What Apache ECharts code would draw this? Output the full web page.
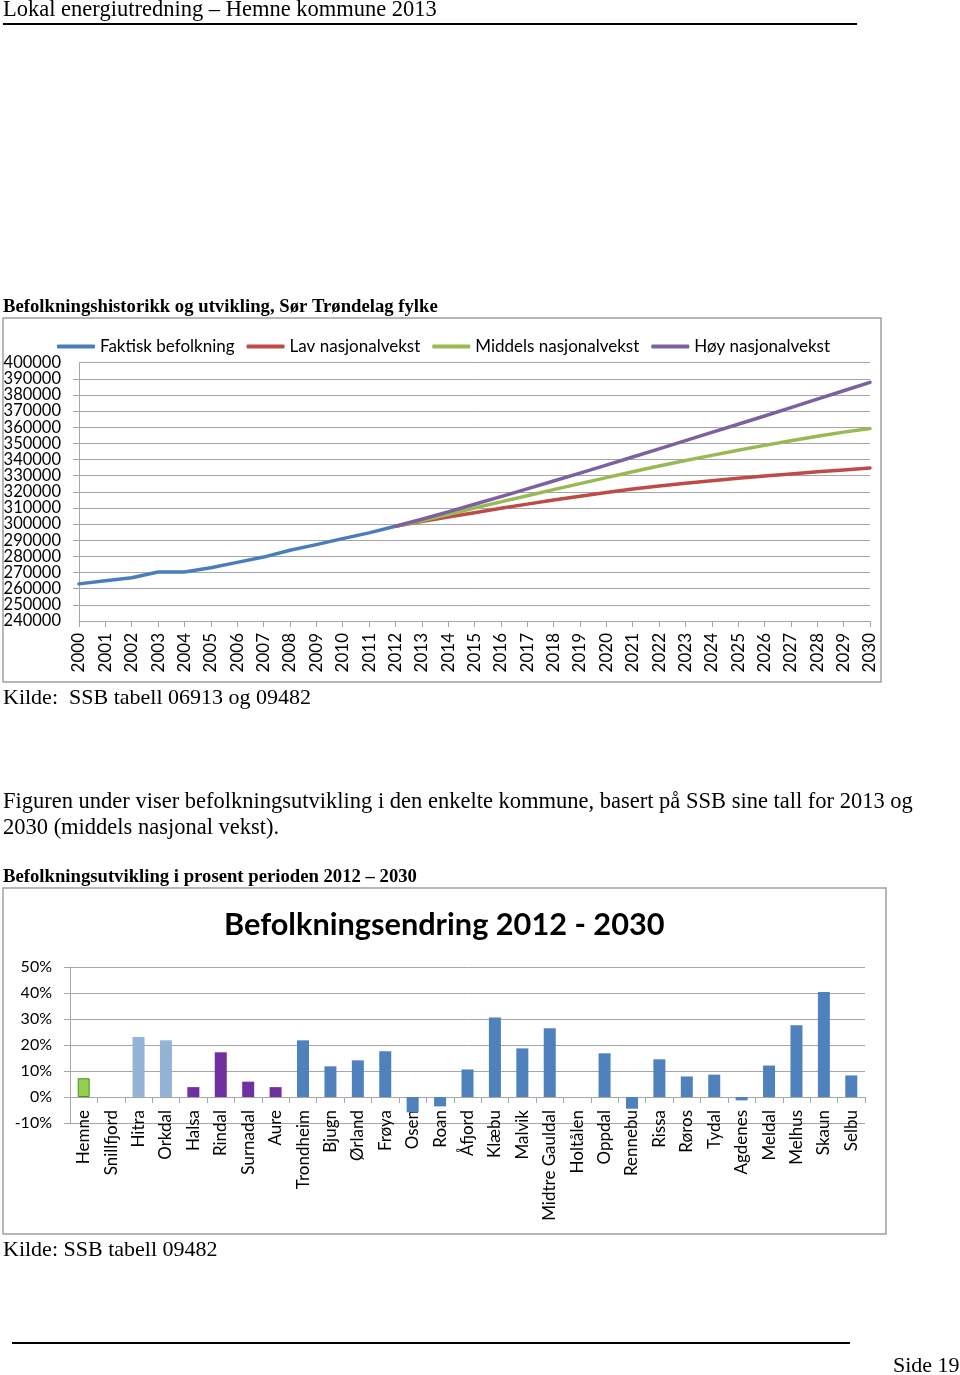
<!DOCTYPE html>
<html><head><meta charset="utf-8">
<script src="https://cdn.jsdelivr.net/npm/echarts@6/dist/echarts.min.js"></script>
<style>html,body{margin:0;padding:0;background:#fff}#c{width:960px;height:1375px}</style>
</head><body><div id="c"></div>
<script>
// ---- Data: population Sør-Trøndelag ----
const years = ['2000','2001','2002','2003','2004','2005','2006','2007','2008','2009','2010',
  '2011','2012','2013','2014','2015','2016','2017','2018','2019','2020','2021','2022','2023',
  '2024','2025','2026','2027','2028','2029','2030'];
// 2000-2012
const faktisk = [263000,264900,266800,270300,270300,273000,276300,279600,283800,287300,291000,294600,298700];
// 2012-2030
const lav = [298700,301600,304400,307100,309800,312400,314900,317300,319600,321700,323600,325300,326900,328400,329800,331100,332400,333600,334800];
const middels = [298700,302000,306000,310000,313800,317600,321400,325100,328800,332400,336000,339400,342600,345800,348800,351700,354500,357000,359300];
const hoy = [298700,303000,307600,312300,317000,321800,326700,331600,336600,341600,346600,351700,356800,361900,367000,372200,377400,382600,387800];
const seriesNames = ['Faktisk befolkning','Lav nasjonalvekst','Middels nasjonalvekst','Høy nasjonalvekst'];
const popMin = 240000, popMax = 400000, popStep = 10000;

// ---- Data: population change 2012-2030 per municipality ----
const kommuner = ['Hemne','Snillfjord','Hitra','Orkdal','Halsa','Rindal','Surnadal','Aure','Trondheim',
  'Bjugn','Ørland','Frøya','Osen','Roan','Åfjord','Klæbu','Malvik','Midtre Gauldal','Holtålen',
  'Oppdal','Rennebu','Rissa','Røros','Tydal','Agdenes','Meldal','Melhus','Skaun','Selbu'];
const endring = [0.072,0,0.231,0.218,0.038,0.172,0.059,0.038,0.218,
  0.118,0.141,0.176,-0.059,-0.036,0.106,0.306,0.187,0.264,0,
  0.168,-0.045,0.145,0.079,0.086,-0.013,0.121,0.276,0.404,0.083];

// ---- styling ----
const lineColors = ['#4A7EBB','#BE4B48','#98B954','#7D60A0'];
const barColor = name => {
  if (name === 'Hemne') return '#92D050';
  if (name === 'Hitra' || name === 'Orkdal') return '#95B3D7';
  if (['Halsa','Rindal','Surnadal','Aure'].includes(name)) return '#7030A0';
  return '#4F81BD';
};
const CF = 'Lato, "Open Sans", sans-serif';
const SF = '"Liberation Serif", "Times New Roman", serif';
const grey = '#A6A6A6';

const pad = (arr, before, total) => {
  const out = [];
  for (let i = 0; i < before; i++) out.push(null);
  arr.forEach(v => out.push(v));
  while (out.length < total) out.push(null);
  return out;
};
const start2012 = years.indexOf('2012');

const lineSeries = [faktisk, lav, middels, hoy].map((arr, i) => ({
  name: seriesNames[i], type: 'line', xAxisIndex: 0, yAxisIndex: 0,
  data: pad(arr, i === 0 ? 0 : start2012, years.length),
  symbol: 'none', showSymbol: false, connectNulls: false,
  legendIcon: 'roundRect',
  lineStyle: { width: 3.5, color: lineColors[i], cap: 'round', join: 'round' },
  itemStyle: { color: lineColors[i] }, z: 2 + i, animation: false
}));

const barData = endring.map((v, i) => ({
  value: v,
  itemStyle: { color: barColor(kommuner[i]), borderColor: kommuner[i] === 'Hemne' ? '#4E8A2A' : 'transparent', borderWidth: kommuner[i] === 'Hemne' ? 1 : 0 }
}));

const txt = (x, y, s, font, opts = {}) => ({
  type: 'text', left: x, top: y, silent: true,
  style: Object.assign({ text: s, font: font, fill: '#000', textVerticalAlign: 'top' }, opts)
});

const topGrid = { left: 79, top: 362.7, width: 791, height: 258.3, containLabel: false, outerBoundsMode: 'none' };
const yLabelStyle = { margin: 18, fontFamily: CF, fontSize: 16.5, color: '#000' };

const option = {
  animation: false,
  backgroundColor: '#fff',
  legend: {
    data: seriesNames, left: 57, top: 338, padding: 0, icon: 'roundRect',
    itemWidth: 38, itemHeight: 4, itemGap: 12,
    textStyle: { fontFamily: CF, fontSize: 17, color: '#000' }
  },
  grid: [
    topGrid,
    { left: 70, top: 967, width: 795, height: 156, containLabel: false, outerBoundsMode: 'none' },
    Object.assign({}, topGrid)
  ],
  xAxis: [
    { type: 'category', gridIndex: 0, data: years, boundaryGap: false,
      axisLine: { lineStyle: { color: grey, width: 1 } },
      axisTick: { show: true, length: 6, lineStyle: { color: grey } },
      axisLabel: { rotate: 90, margin: 12, interval: 0, fontFamily: CF, fontSize: 17, color: '#000' },
      splitLine: { show: false } },
    { type: 'category', gridIndex: 1, data: kommuner, boundaryGap: true,
      axisLine: { onZero: true, lineStyle: { color: grey, width: 1 } },
      axisTick: { show: true, length: 6, alignWithLabel: false, interval: 0, lineStyle: { color: grey } },
      axisLabel: { rotate: 90, margin: -13, interval: 0, fontFamily: CF, fontSize: 17, color: '#000' },
      splitLine: { show: false } },
    { type: 'category', gridIndex: 2, data: years, boundaryGap: false, show: false }
  ],
  yAxis: [
    { type: 'value', gridIndex: 0, min: popMin, max: popMax, interval: popStep,
      axisLine: { show: true, lineStyle: { color: grey } },
      axisTick: { show: true, length: 6, lineStyle: { color: grey } },
      axisLabel: Object.assign({ showMinLabel: false, showMaxLabel: false, formatter: v => String(v) }, yLabelStyle),
      splitLine: { show: true, lineStyle: { color: grey, width: 1 } } },
    { type: 'value', gridIndex: 1, min: -0.1, max: 0.5, interval: 0.1,
      axisLine: { show: true, lineStyle: { color: grey } },
      axisTick: { show: true, length: 6, lineStyle: { color: grey } },
      axisLabel: { margin: 18, fontFamily: CF, fontSize: 16, color: '#000',
        showMinLabel: true, showMaxLabel: true,
        formatter: v => Math.round(v * 100) + '%' },
      splitLine: { show: true, lineStyle: { color: grey, width: 1 } } },
    // companion axis carrying only the end labels (400000 / 240000) of the top chart
    { type: 'value', gridIndex: 2, position: 'left', min: popMin, max: popMax, interval: popStep,
      axisLine: { show: false }, axisTick: { show: false }, splitLine: { show: false },
      axisLabel: Object.assign({ showMinLabel: true, showMaxLabel: true,
        formatter: v => (v === popMin || v === popMax) ? String(v) : '' }, yLabelStyle) }
  ],
  series: lineSeries.concat([{
    name: 'Befolkningsendring', type: 'bar', xAxisIndex: 1, yAxisIndex: 1,
    data: barData, barWidth: 12, animation: false
  }]),
  graphic: [
    txt(3, -1, 'Lokal energiutredning – Hemne kommune 2013', '22.5px ' + SF),
    { type: 'line', silent: true, shape: { x1: 3, y1: 24, x2: 857, y2: 24 }, style: { stroke: '#000', lineWidth: 2 } },
    txt(3, 298, 'Befolkningshistorikk og utvikling, Sør Trøndelag fylke', 'bold 18.7px ' + SF),
    { type: 'rect', silent: true, shape: { x: 3, y: 318, width: 878, height: 364 }, style: { fill: 'none', stroke: '#A0A0A0', lineWidth: 1.5 }, z: -1 },
    txt(3, 687, 'Kilde:  SSB tabell 06913 og 09482', '22px ' + SF),
    txt(3, 791, 'Figuren under viser befolkningsutvikling i den enkelte kommune, basert på SSB sine tall for 2013 og', '22.5px ' + SF),
    txt(3, 817, '2030 (middels nasjonal vekst).', '22.5px ' + SF),
    txt(3, 868, 'Befolkningsutvikling i prosent perioden 2012 – 2030', 'bold 18.7px ' + SF),
    { type: 'rect', silent: true, shape: { x: 3, y: 888, width: 883, height: 346 }, style: { fill: 'none', stroke: '#A0A0A0', lineWidth: 1.5 }, z: -1 },
    txt(224, 910, 'Befolkningsendring 2012 - 2030', 'bold 30.7px ' + CF),
    txt(3, 1239, 'Kilde: SSB tabell 09482', '22px ' + SF),
    { type: 'line', silent: true, shape: { x1: 12, y1: 1343, x2: 850, y2: 1343 }, style: { stroke: '#000', lineWidth: 2 } },
    txt(893, 1355, 'Side 19', '22px ' + SF)
  ]
};

const chart = echarts.init(document.getElementById('c'), null, { renderer: 'canvas', width: 960, height: 1375 });
chart.setOption(option);
</script>
</body></html>
